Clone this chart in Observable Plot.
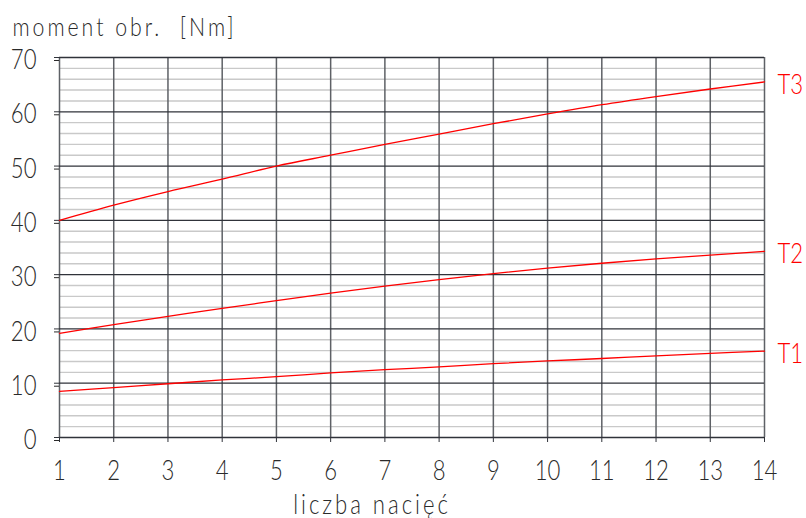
<!DOCTYPE html>
<html>
<head>
<meta charset="utf-8">
<style>
  body { margin: 0; background: #fff; }
  svg { display: block; }
</style>
<script src="https://cdn.jsdelivr.net/npm/d3@7"></script>
<script src="https://cdn.jsdelivr.net/npm/@observablehq/plot@0.6"></script>
</head>
<body>
<div id="chart"></div>
<script>
// number of cuts (x axis)
const cuts = [1, 2, 3, 4, 5, 6, 7, 8, 9, 10, 11, 12, 13, 14];

// torque for each tool [Nm]
const t1 = [8.5, 9.2, 9.9, 10.6, 11.2, 11.9, 12.5, 13.0, 13.6, 14.1, 14.55, 15.05, 15.5, 15.9];
const t2 = [19.2, 20.8, 22.3, 23.8, 25.2, 26.6, 27.9, 29.1, 30.2, 31.2, 32.1, 32.9, 33.6, 34.3];
const t3 = [40.0, 42.8, 45.3, 47.6, 50.0, 52.0, 54.0, 55.9, 57.8, 59.6, 61.3, 62.8, 64.2, 65.5];

const seriesNames = ["T1", "T2", "T3"];
const seriesValues = [t1, t2, t3];

// y grid: labelled major lines and fine minor lines
const yMajor = [0, 10, 20, 30, 40, 50, 60, 70];
const yMinor = [2, 4, 6, 8, 12, 14, 16, 18, 22, 24, 26, 28, 32, 34, 36, 38,
                42, 44, 46, 48, 52, 54, 56, 58, 62, 64, 66, 68];

const yTitle = "moment obr.  [Nm]";
const xTitle = "liczba nacięć";

const rows = seriesNames.flatMap((name, i) =>
  cuts.map((n, j) => ({ series: name, n, m: seriesValues[i][j] }))
);

const font = "Lato, Roboto, 'DejaVu Sans', sans-serif";
const ink = "#2a2a2a";

const chart = Plot.plot({
  width: 806,
  height: 518,
  marginLeft: 59,
  marginRight: 42,
  marginTop: 57,
  marginBottom: 81,
  style: { fontFamily: font, fontWeight: 300, color: ink, background: "#fff", overflow: "visible" },
  x: { domain: [1, 14] },
  y: { domain: [0, 70] },
  marks: [
    Plot.ruleY(yMinor, { stroke: "#c9c9c9", strokeWidth: 1.4 }),
    Plot.ruleX(cuts, { stroke: "#5e6166", strokeWidth: 1.5 }),
    Plot.ruleY(yMajor, { stroke: "#30333a", strokeWidth: 1.3 }),
    // tick marks on the left edge, numbers set a little below their line
    Plot.axisY(yMajor, {
      tickSize: 5, stroke: "#30333a", label: null, text: null
    }),
    Plot.axisY(yMajor, {
      tickSize: 5, tickPadding: 18, fontSize: 27, dy: 3, label: null,
      tick: null, tickFormat: d => String(d)
    }),
    Plot.axisX(cuts, {
      tickSize: 5, tickPadding: 18, fontSize: 27, stroke: "#30333a",
      label: null, tickFormat: d => String(d)
    }),
    Plot.line(rows, { x: "n", y: "m", z: "series", stroke: "#ff0000", strokeWidth: 1.3, curve: "catmull-rom" }),
    Plot.text(rows, Plot.selectLast({
      x: "n", y: "m", z: "series", text: "series",
      dx: 13, dy: 3, textAnchor: "start", fill: "#ff0000", fontSize: 27
    })),
    Plot.text([yTitle], {
      text: d => d, frameAnchor: "top-left", textAnchor: "start", lineAnchor: "middle",
      dx: -47, dy: -30, fontSize: 26, fill: ink, className: "spaced"
    }),
    Plot.text([xTitle], {
      text: d => d, frameAnchor: "bottom", textAnchor: "middle", lineAnchor: "middle",
      dx: -40, dy: 68, fontSize: 27, fill: ink, className: "spaced"
    })
  ]
});

// narrow, drafting-style lettering: squeeze each label horizontally
chart.querySelectorAll("text").forEach(t => {
  const tr = t.getAttribute("transform") || "";
  t.setAttribute("transform", tr + " scale(0.82,1)");
});
chart.querySelectorAll(".spaced text").forEach(t => t.setAttribute("letter-spacing", "3.6"));

document.getElementById("chart").appendChild(chart);
</script>
</body>
</html>
